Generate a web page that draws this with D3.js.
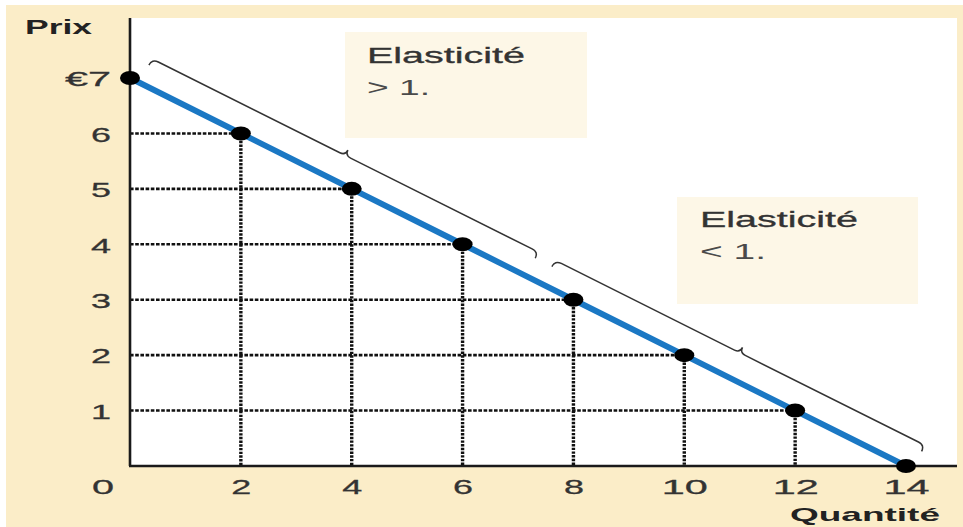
<!DOCTYPE html>
<html>
<head>
<meta charset="utf-8">
<script src="https://cdn.jsdelivr.net/npm/d3@7"></script>
<style>
  html, body { margin: 0; padding: 0; background: #ffffff; }
  svg { display: block; }
  text { font-family: "Liberation Sans", Arial, sans-serif; }
</style>
</head>
<body>
<svg id="chart" width="963" height="527"></svg>
<script>
// Linear demand curve: quantity demanded at each price
const quantities = [0, 2, 4, 6, 8, 10, 12, 14];
const prices     = [7, 6, 5, 4, 3, 2, 1, 0];

// Axis ticks
const xTickValues = [2, 4, 6, 8, 10, 12, 14];
const yTickValues = [1, 2, 3, 4, 5, 6, 7];
const yTickLabels = ["1", "2", "3", "4", "5", "6", "€7"];
const originLabel = "0";

// Quantity spans covered by each brace, and the note attached to it
const braceStart = [0.18, 7.45];
const braceEnd   = [7.15, 14.12];
const noteTitles = ["Elasticité", "Elasticité"];
const noteValues = ["> 1.", "< 1."];

const svg = d3.select("#chart");
const W = 963, H = 527;

const x = d3.scaleLinear().domain([0, 14]).range([130, 906]);
const y = d3.scaleLinear().domain([0, 7]).range([466, 78]);

// Backgrounds
svg.append("rect").attr("x", 6).attr("y", 5).attr("width", W - 6).attr("height", H - 5)
  .attr("fill", "#fbedc8");
svg.append("rect").attr("x", x(0)).attr("y", 18).attr("width", 957 - x(0)).attr("height", y(0) - 18)
  .attr("fill", "#ffffff");

// Note boxes
const boxes = [
  { x: 345, y: 32, w: 242, h: 106, tx: 367, ty: 63 },
  { x: 677, y: 197, w: 241, h: 107, tx: 700, ty: 227 }
];
const titleLen = 158, valueLen = [63, 66];
boxes.forEach((b, i) => {
  svg.append("rect").attr("x", b.x).attr("y", b.y).attr("width", b.w).attr("height", b.h)
    .attr("fill", "#fdf7e7");
  svg.append("text").attr("x", b.tx).attr("y", b.ty)
    .attr("font-size", 22).attr("fill", "#333").attr("stroke", "#333").attr("stroke-width", 0.3)
    .attr("textLength", titleLen).attr("lengthAdjust", "spacingAndGlyphs")
    .text(noteTitles[i]);
  svg.append("text").attr("x", b.tx).attr("y", b.ty + 32)
    .attr("font-size", 22).attr("fill", "#4a4a4a")
    .attr("textLength", valueLen[i]).attr("lengthAdjust", "spacingAndGlyphs")
    .text(noteValues[i]);
});

// Dotted guides from each interior point to both axes
const pts = quantities.map((q, i) => ({ q, p: prices[i] }));
const inner = pts.filter(d => d.q > 0 && d.p > 0);
const guides = svg.append("g").attr("stroke", "#111").attr("fill", "none");
guides.selectAll("line.h").data(inner).join("line").attr("class", "h")
  .attr("stroke-width", 2.6).attr("stroke-dasharray", "3.6,1.6")
  .attr("x1", x(0)).attr("x2", d => x(d.q))
  .attr("y1", d => y(d.p)).attr("y2", d => y(d.p));
guides.selectAll("line.v").data(inner).join("line").attr("class", "v")
  .attr("stroke-width", 3.4).attr("stroke-dasharray", "2.4,1.3")
  .attr("x1", d => x(d.q)).attr("x2", d => x(d.q))
  .attr("y1", d => y(d.p)).attr("y2", y(0));

// Demand line
svg.append("path").datum(pts)
  .attr("d", d3.line().x(d => x(d.q)).y(d => y(d.p)))
  .attr("fill", "none").attr("stroke", "#1b78c4").attr("stroke-width", 6);

// Axes lines
svg.append("line").attr("x1", x(0)).attr("x2", x(0)).attr("y1", 18).attr("y2", y(0))
  .attr("stroke", "#1a1a1a").attr("stroke-width", 2.6);
svg.append("line").attr("x1", x(0) - 1).attr("x2", 957).attr("y1", y(0)).attr("y2", y(0))
  .attr("stroke", "#1a1a1a").attr("stroke-width", 2.6);

// Points
svg.append("g").selectAll("ellipse").data(pts).join("ellipse")
  .attr("cx", d => x(d.q)).attr("cy", d => y(d.p))
  .attr("rx", 10).attr("ry", 7).attr("fill", "#000");

// Curly braces running parallel to the demand line
const lineAt = q => [x(q), y(7 - q / 2)];
const P0 = lineAt(0), P1 = lineAt(14);
const len = Math.hypot(P1[0] - P0[0], P1[1] - P0[1]);
const dir = [(P1[0] - P0[0]) / len, (P1[1] - P0[1]) / len];
const nrm = [dir[1], -dir[0]];
const h = 27, r = 7, cusp = 6;
function at(q, du, dv) {
  const b = lineAt(q);
  return [b[0] + dir[0] * du + nrm[0] * dv, b[1] + dir[1] * du + nrm[1] * dv];
}
function bracePath(q0, q1) {
  const qm = (q0 + q1) / 2;
  const p = d3.path();
  let a = at(q0, 0, h - r); p.moveTo(a[0], a[1]);
  let c = at(q0, 0, h), e = at(q0, r, h); p.quadraticCurveTo(c[0], c[1], e[0], e[1]);
  e = at(qm, -cusp, h); p.lineTo(e[0], e[1]);
  c = at(qm, 0, h); e = at(qm, 0, h + cusp); p.quadraticCurveTo(c[0], c[1], e[0], e[1]);
  c = at(qm, 0, h); e = at(qm, cusp, h); p.quadraticCurveTo(c[0], c[1], e[0], e[1]);
  e = at(q1, -r, h); p.lineTo(e[0], e[1]);
  c = at(q1, 0, h); e = at(q1, 0, h - r); p.quadraticCurveTo(c[0], c[1], e[0], e[1]);
  return p.toString();
}
svg.append("g").selectAll("path").data(braceStart.map((s, i) => [s, braceEnd[i]])).join("path")
  .attr("d", d => bracePath(d[0], d[1]))
  .attr("fill", "none").attr("stroke", "#333").attr("stroke-width", 1.5);

// Tick labels
const labelLen = s => s.length === 1 ? 20 : (s === "€7" ? 46 : 46);
const gx = svg.append("g").attr("transform", `translate(0,${y(0)})`)
  .call(d3.axisBottom(x).tickValues(xTickValues).tickSize(0).tickPadding(13));
gx.select(".domain").remove();
gx.selectAll("text").attr("font-size", 21).attr("fill", "#333")
  .attr("stroke", "#333").attr("stroke-width", 0.3)
  .attr("font-family", "Liberation Sans, Arial, sans-serif")
  .attr("textLength", d => labelLen(String(d))).attr("lengthAdjust", "spacingAndGlyphs");

const gy = svg.append("g").attr("transform", `translate(${x(0)},0)`)
  .call(d3.axisLeft(y).tickValues(yTickValues).tickFormat((d, i) => yTickLabels[i])
    .tickSize(0).tickPadding(19));
gy.select(".domain").remove();
gy.selectAll("text").attr("font-size", 21).attr("fill", "#333").attr("dy", "0.37em")
  .attr("stroke", "#333").attr("stroke-width", 0.3)
  .attr("font-family", "Liberation Sans, Arial, sans-serif")
  .attr("textLength", (d, i) => labelLen(yTickLabels[i])).attr("lengthAdjust", "spacingAndGlyphs");

svg.append("text").attr("x", x(0) - 27).attr("y", y(0) + 28).attr("text-anchor", "middle")
  .attr("font-size", 21).attr("fill", "#333").attr("stroke", "#333").attr("stroke-width", 0.3)
  .attr("textLength", 22).attr("lengthAdjust", "spacingAndGlyphs")
  .text(originLabel);

// Axis titles
svg.append("text").attr("x", 25).attr("y", 34).attr("font-size", 20).attr("font-weight", "bold")
  .attr("fill", "#222").attr("textLength", 67).attr("lengthAdjust", "spacingAndGlyphs")
  .text("Prix");
svg.append("text").attr("x", 790).attr("y", 521).attr("font-size", 19).attr("font-weight", "bold")
  .attr("fill", "#222").attr("textLength", 150).attr("lengthAdjust", "spacingAndGlyphs")
  .text("Quantité");
</script>
</body>
</html>
